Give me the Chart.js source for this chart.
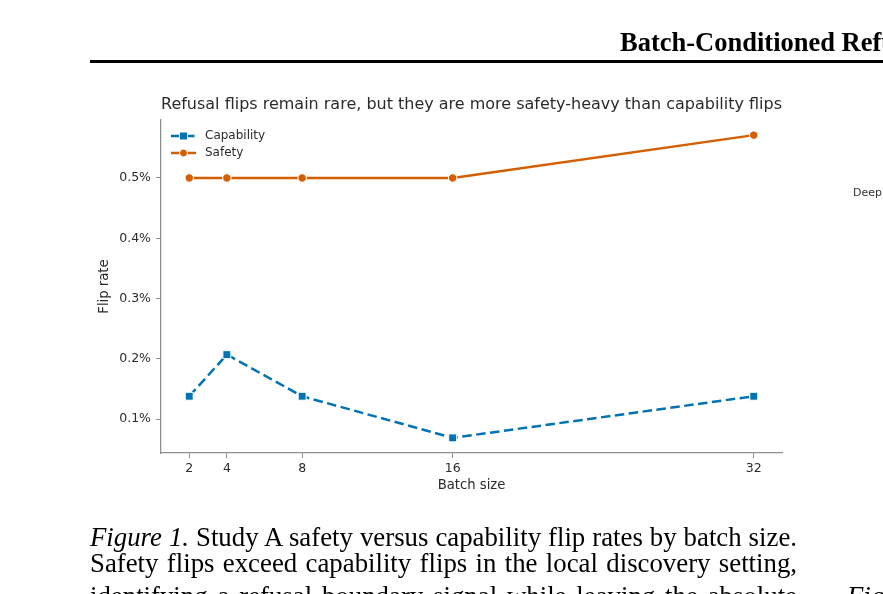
<!DOCTYPE html>
<html>
<head>
<meta charset="utf-8">
<script src="https://cdn.jsdelivr.net/npm/chart.js@4/dist/chart.umd.min.js"></script>
<style>
  html, body { margin: 0; padding: 0; background: #fff; }
  body { width: 883px; height: 594px; overflow: hidden; position: relative; }
  #flipChart { position: absolute; left: 0; top: 0; }
  .serif { font-family: "Liberation Serif", "Times New Roman", serif; color: #000; position: absolute; white-space: nowrap; }
  #runhead { left: 620px; top: 29px; font-size: 26.5px; line-height: 26.5px; font-weight: bold; }
  #rule { position: absolute; left: 90px; top: 60px; width: 800px; height: 3px; background: #000; }
  .cap { left: 90px; width: 707px; font-size: 26.8px; line-height: 26.3px; text-align: justify; text-align-last: justify; }
  #other { position: absolute; left: 853px; top: 186px; font: 11px "DejaVu Sans", sans-serif; color: #333; white-space: nowrap; }
</style>
</head>
<body>
<canvas id="flipChart" width="883" height="594"></canvas>
<div id="runhead" class="serif">Batch-Conditioned Refusal Boundaries</div>
<div id="rule"></div>
<div id="other">Deep</div>
<div class="serif cap" style="top:524px"><i>Figure 1.</i> Study A safety versus capability flip rates by batch size.</div>
<div class="serif cap" style="top:550px">Safety flips exceed capability flips in the local discovery setting,</div>
<div class="serif cap" style="top:583px">identifying a refusal boundary signal while leaving the absolute</div>
<div class="serif" style="left:847px; top:583px; font-size:26.8px; line-height:26.3px"><i>Figure 2.</i></div>
<script>
// data (flip rate in percent)
const batchSizes = [2, 4, 8, 16, 32];
const capabilityRates = [0.138, 0.207, 0.138, 0.069, 0.138];
const safetyRates = [0.5, 0.5, 0.5, 0.5, 0.571];
const seriesNames = ['Capability', 'Safety'];
const yTicks = [0.1, 0.2, 0.3, 0.4, 0.5];
const chartTitle = 'Refusal flips remain rare, but they are more safety-heavy than capability flips';

const blue = '#0173b2';
const orange = '#d55e00';
const spine = '#8f8f8f';
const ink = '#2b2b2b';
const fontFam = '"DejaVu Sans", sans-serif';

// matplotlib style 5% margins
function padRange(vals) {
    let lo = Math.min(...vals), hi = Math.max(...vals);
    let m = (hi - lo) * 0.05;
    return [lo - m, hi + m];
}
const xRange = padRange(batchSizes);
const yRange = padRange(capabilityRates.concat(safetyRates));

function points(ys) {
    return batchSizes.map((b, i) => ({x: b, y: ys[i]}));
}

// little legend drawn in the top-left corner of the plot
const cornerLegend = {
    id: 'cornerLegend',
    afterDraw(chart) {
        const ctx = chart.ctx;
        const area = chart.chartArea;
        ctx.save();
        chart.data.datasets.forEach((ds, i) => {
            let y = area.top + 16 + i * 17;
            let x0 = area.left + 10, x1 = area.left + 35;
            ctx.strokeStyle = ds.borderColor;
            ctx.lineWidth = ds.borderWidth;
            ctx.setLineDash(ds.borderDash || []);
            ctx.beginPath();
            ctx.moveTo(x0, y);
            ctx.lineTo(x1, y);
            ctx.stroke();
            ctx.setLineDash([]);
            ctx.fillStyle = ds.pointBackgroundColor;
            ctx.strokeStyle = '#fff';
            ctx.lineWidth = 1;
            let cx = (x0 + x1) / 2;
            ctx.beginPath();
            if (ds.pointStyle === 'rect') {
                ctx.rect(cx - 4, y - 4, 8, 8);
            } else {
                ctx.arc(cx, y, 4, 0, Math.PI * 2);
            }
            ctx.fill();
            ctx.stroke();
            ctx.fillStyle = ink;
            ctx.font = '12px ' + fontFam;
            ctx.textBaseline = 'middle';
            ctx.fillText(ds.label, area.left + 44, y);
        });
        ctx.restore();
    }
};

new Chart(document.getElementById('flipChart'), {
    type: 'line',
    data: {
        datasets: [{
            label: seriesNames[0],
            data: points(capabilityRates),
            borderColor: blue,
            borderWidth: 2.5,
            borderDash: [9.5, 4.5],
            pointStyle: 'rect',
            pointRadius: 5.6,
            pointBackgroundColor: blue,
            pointBorderColor: '#fff',
            pointBorderWidth: 1,
            tension: 0
        }, {
            label: seriesNames[1],
            data: points(safetyRates),
            borderColor: orange,
            borderWidth: 2.5,
            pointStyle: 'circle',
            pointRadius: 4.2,
            pointBackgroundColor: orange,
            pointBorderColor: '#fff',
            pointBorderWidth: 1,
            tension: 0
        }]
    },
    options: {
        responsive: false,
        animation: false,
        layout: {
            padding: {left: 93.1, right: 101, top: 95.4, bottom: 96.1}
        },
        plugins: {
            legend: { display: false },
            tooltip: { enabled: false },
            title: {
                display: true,
                fullSize: false,
                text: chartTitle,
                color: ink,
                font: { family: fontFam, size: 16, weight: 'normal' },
                padding: { top: 0, bottom: 5.4 }
            }
        },
        scales: {
            x: {
                type: 'linear',
                min: xRange[0],
                max: xRange[1],
                afterBuildTicks: (s) => { s.ticks = batchSizes.map(v => ({value: v})); },
                afterFit: (s) => { s.height = 44.9; },
                ticks: {
                    autoSkip: false,
                    color: ink,
                    padding: 3,
                    font: { family: fontFam, size: 12.5 },
                    callback: (v) => String(v)
                },
                grid: { drawOnChartArea: false, drawTicks: true, tickLength: 5, tickColor: spine },
                border: { display: true, color: spine, width: 1.3 },
                title: {
                    display: true, text: 'Batch size', color: ink,
                    font: { family: fontFam, size: 13.2 },
                    padding: { top: 4, bottom: 4 }
                }
            },
            y: {
                min: yRange[0],
                max: yRange[1],
                afterBuildTicks: (s) => { s.ticks = yTicks.map(v => ({value: v})); },
                afterFit: (s) => { s.width = 67.9; },
                ticks: {
                    color: ink,
                    padding: 5,
                    font: { family: fontFam, size: 12.5 },
                    callback: (v) => v.toFixed(1) + '%'
                },
                grid: { drawOnChartArea: false, drawTicks: true, tickLength: 5, tickColor: spine },
                border: { display: true, color: spine, width: 1.3 },
                title: {
                    display: true, text: 'Flip rate', color: ink,
                    font: { family: fontFam, size: 13.2 },
                    padding: { top: 4, bottom: 4 }
                }
            }
        }
    },
    plugins: [cornerLegend]
});
</script>
</body>
</html>
